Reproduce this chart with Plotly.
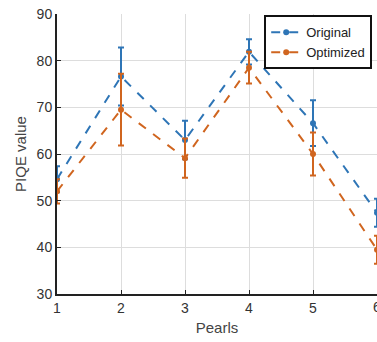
import plotly.graph_objects as go

pearls = [1, 2, 3, 4, 5, 6]
orig_mean = [54.6, 76.6, 63.0, 81.9, 66.6, 47.4]
orig_err = [2.8, 6.2, 4.1, 2.7, 4.9, 3.0]
opt_mean = [52.0, 69.5, 59.1, 78.5, 60.0, 39.5]
opt_err = [2.6, 7.7, 4.2, 3.4, 4.6, 3.0]

fig = go.Figure()
fig.add_trace(go.Scatter(
    x=pearls, y=orig_mean, name="Original", mode="lines+markers",
    line=dict(color="#2E75B6", width=2, dash="dash"),
    marker=dict(size=6, color="#2E75B6"),
    error_y=dict(type="data", array=orig_err, color="#2E75B6", thickness=2, width=3),
))
fig.add_trace(go.Scatter(
    x=pearls, y=opt_mean, name="Optimized", mode="lines+markers",
    line=dict(color="#D0651F", width=2, dash="dash"),
    marker=dict(size=6, color="#D0651F"),
    error_y=dict(type="data", array=opt_err, color="#D0651F", thickness=2, width=3),
))

fig.update_layout(
    width=377, height=342,
    margin=dict(l=57, r=0, t=14, b=48),
    paper_bgcolor="white", plot_bgcolor="white",
    font=dict(family="Liberation Sans, Arial, sans-serif", size=13, color="#333333"),
    showlegend=True,
    legend=dict(
        x=0.985, y=0.995, xanchor="right", yanchor="top",
        bordercolor="#111111", borderwidth=2, bgcolor="white",
        font=dict(size=13, color="#222222"),
        tracegroupgap=0, itemwidth=30,
    ),
)
# last tick label sits on the window edge (partially cut, as in the reference)
fig.add_annotation(
    x=pearls[-1], y=0, xref="x", yref="paper", yanchor="top", yshift=-3,
    text=str(pearls[-1]), showarrow=False,
    font=dict(size=14, color="#333333"),
)
fig.update_xaxes(
    range=[1, 6], tickvals=pearls[:-1], ticktext=[str(p) for p in pearls[:-1]],
    showgrid=True, gridcolor="#DDDDDD", gridwidth=1,
    showline=True, linecolor="#222222", linewidth=2,
    ticks="inside", ticklen=4, tickcolor="#222222",
    zeroline=False,
    title=dict(text="Pearls", font=dict(size=15, color="#444444"), standoff=8),
    tickfont=dict(size=14, color="#333333"),
)
fig.update_yaxes(
    range=[30, 90], tickvals=[30, 40, 50, 60, 70, 80, 90],
    showgrid=True, gridcolor="#DDDDDD", gridwidth=1,
    showline=True, linecolor="#222222", linewidth=2,
    ticks="inside", ticklen=4, tickcolor="#222222",
    zeroline=False,
    title=dict(text="PIQE value", font=dict(size=15, color="#444444"), standoff=6),
    tickfont=dict(size=14, color="#333333"),
)

fig.write_html("out.html")
